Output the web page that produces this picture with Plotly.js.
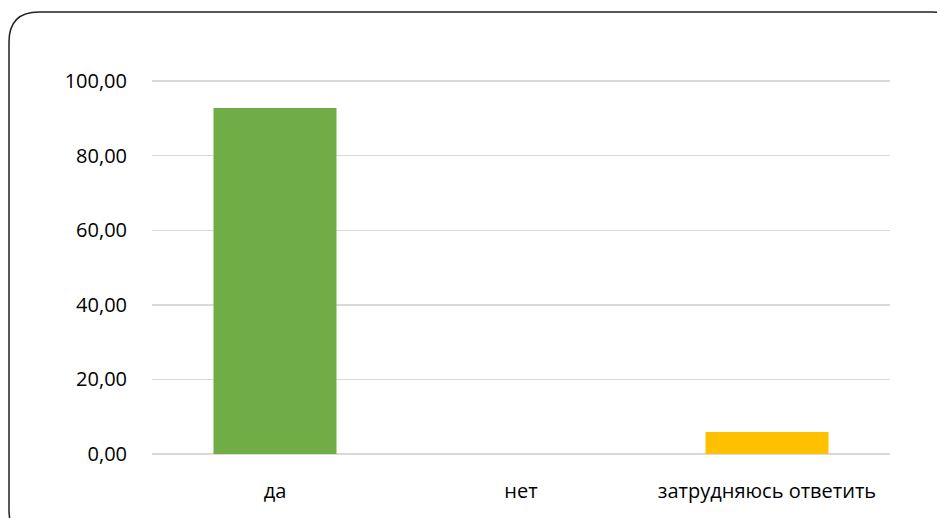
<!DOCTYPE html>
<html>
<head>
<meta charset="utf-8">
<script src="https://cdn.plot.ly/plotly-3.0.1.min.js"></script>
<style>
html,body{margin:0;padding:0;background:#fff;overflow:hidden;}
#chart{width:937px;height:518px;}
</style>
</head>
<body>
<div id="chart"></div>
<script>
const categories = ["да", "нет", "затрудняюсь ответить"];
const values = [92.8, 0, 5.9];
const barColors = ["#70AD47", "#A5A5A5", "#FFC000"];
const tickVals = [0, 20, 40, 60, 80, 100];
const tickText = ["0,00", "20,00", "40,00", "60,00", "80,00", "100,00"];

const font = {family: "Open Sans, Noto Sans, sans-serif", size: 20, color: "#000"};

const L = 152, T = 80, W = 738, H = 374;

Plotly.newPlot("chart", [{
  type: "bar",
  x: categories,
  y: values,
  marker: {color: barColors},
  hoverinfo: "x+y"
}], {
  width: 937, height: 518,
  margin: {l: L, r: 937 - L - W, t: T, b: 518 - T - H},
  paper_bgcolor: "#fff",
  plot_bgcolor: "#fff",
  bargap: 0.5,
  showlegend: false,
  font: font,
  xaxis: {
    type: "category",
    showgrid: false, zeroline: false, showline: false,
    ticks: "outside", ticklen: 19, tickcolor: "rgba(0,0,0,0)",
    tickfont: font
  },
  yaxis: {
    range: [0, 100.3],
    tickvals: tickVals, ticktext: tickText,
    showgrid: true, gridcolor: "#d9d9d9", gridwidth: 1.5,
    zeroline: true, zerolinecolor: "#d9d9d9", zerolinewidth: 1.5,
    showline: false,
    ticks: "outside", ticklen: 20, tickcolor: "rgba(0,0,0,0)",
    tickfont: font
  },
  shapes: [{
    type: "path",
    xref: "paper", yref: "paper",
    path: (function(){
      const px = x => (x - L) / W;
      const py = y => 1 - (y - T) / H;
      const x0=9, y0=12, x1=962, y1=540, r=30;
      return `M ${px(x0+r)},${py(y0)} L ${px(x1-r)},${py(y0)} Q ${px(x1)},${py(y0)} ${px(x1)},${py(y0+r)} ` +
             `L ${px(x1)},${py(y1-r)} Q ${px(x1)},${py(y1)} ${px(x1-r)},${py(y1)} ` +
             `L ${px(x0+r)},${py(y1)} Q ${px(x0)},${py(y1)} ${px(x0)},${py(y1-r)} ` +
             `L ${px(x0)},${py(y0+r)} Q ${px(x0)},${py(y0)} ${px(x0+r)},${py(y0)} Z`;
    })(),
    line: {color: "#222", width: 1.5},
    layer: "below"
  }]
}, {displayModeBar: false, staticPlot: true});
</script>
</body>
</html>
